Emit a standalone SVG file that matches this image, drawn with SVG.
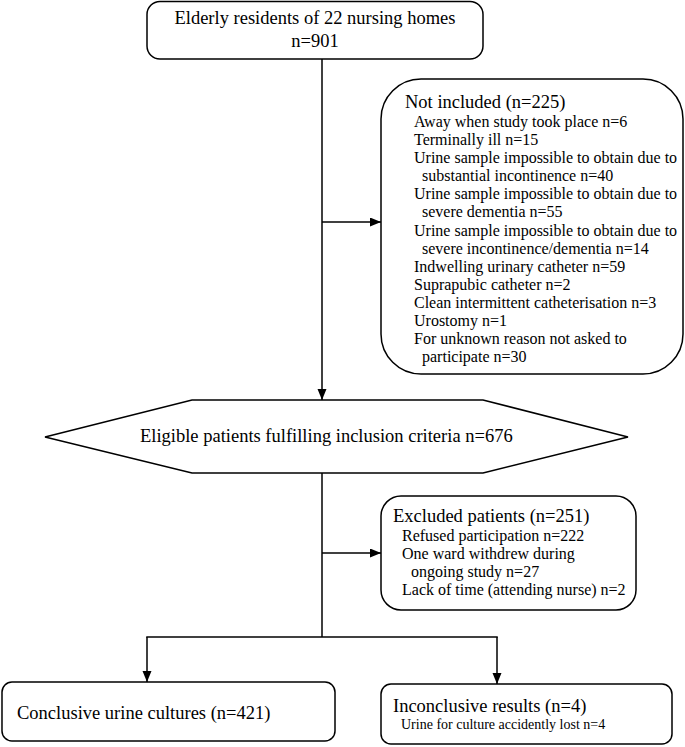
<svg xmlns="http://www.w3.org/2000/svg" width="685" height="747" viewBox="0 0 685 747">
<defs>
<marker id="ah" markerUnits="userSpaceOnUse" markerWidth="12" markerHeight="10" refX="11" refY="4.5" orient="auto">
<path d="M0,0 L11,4.5 L0,9 z" fill="#000"/>
</marker>
<style>
.box{fill:#fff;stroke:#000;stroke-width:1.5}
.ln{fill:none;stroke:#000;stroke-width:1.5}
text{font-family:"Liberation Serif","Times New Roman",serif;fill:#000}
.h{font-size:18.5px}
.s{font-size:16px}
.xs{font-size:14px}
</style>
</defs>
<g id="connectors">
<line class="ln" x1="322" y1="59" x2="322" y2="400" marker-end="url(#ah)"/>
<line class="ln" x1="322" y1="222" x2="381" y2="222" marker-end="url(#ah)"/>
<line class="ln" x1="322" y1="473" x2="322" y2="637"/>
<line class="ln" x1="322" y1="553" x2="381" y2="553" marker-end="url(#ah)"/>
<line class="ln" x1="146.25" y1="637" x2="497.75" y2="637"/>
<line class="ln" x1="147" y1="637" x2="147" y2="682" marker-end="url(#ah)"/>
<line class="ln" x1="497" y1="637" x2="497" y2="684" marker-end="url(#ah)"/>
</g>
<g id="n1">
<rect class="box" x="147" y="1.5" width="336" height="57.5" rx="13"/>
<text class="h" x="315" y="24" text-anchor="middle">Elderly residents of 22 nursing homes</text>
<text class="h" x="315" y="47" text-anchor="middle">n=901</text>
</g>
<g id="n2">
<rect class="box" x="381" y="79" width="302" height="295" rx="40"/>
<text class="h" x="405" y="108">Not included (n=225)</text>
<text class="s" x="414" y="127">Away when study took place n=6</text>
<text class="s" x="414" y="145">Terminally ill n=15</text>
<text class="s" x="414" y="163">Urine sample impossible to obtain due to</text>
<text class="s" x="422" y="181">substantial incontinence n=40</text>
<text class="s" x="414" y="199">Urine sample impossible to obtain due to</text>
<text class="s" x="422" y="217">severe dementia n=55</text>
<text class="s" x="414" y="236">Urine sample impossible to obtain due to</text>
<text class="s" x="422" y="254">severe incontinence/dementia n=14</text>
<text class="s" x="414" y="272">Indwelling urinary catheter n=59</text>
<text class="s" x="414" y="290">Suprapubic catheter n=2</text>
<text class="s" x="414" y="308">Clean intermittent catheterisation n=3</text>
<text class="s" x="414" y="326">Urostomy n=1</text>
<text class="s" x="414" y="344">For unknown reason not asked to</text>
<text class="s" x="422" y="362">participate n=30</text>
</g>
<g id="n3">
<polygon class="box" points="45,437 192,400 483,400 628,437 483,473 192,473"/>
<text class="h" x="140" y="442">Eligible patients fulfilling inclusion criteria n=676</text>
</g>
<g id="n4">
<rect class="box" x="381" y="496" width="255" height="114" rx="20"/>
<text class="h" x="393" y="522">Excluded patients (n=251)</text>
<text class="s" x="402" y="541">Refused participation n=222</text>
<text class="s" x="402" y="559">One ward withdrew during</text>
<text class="s" x="411" y="577">ongoing study n=27</text>
<text class="s" x="402" y="595">Lack of time (attending nurse) n=2</text>
</g>
<g id="n5">
<rect class="box" x="2" y="682" width="333" height="59" rx="10"/>
<text class="h" x="17" y="719">Conclusive urine cultures (n=421)</text>
</g>
<g id="n6">
<rect class="box" x="381" y="684" width="291" height="60" rx="10"/>
<text class="h" x="393" y="712">Inconclusive results (n=4)</text>
<text class="xs" x="401" y="729">Urine for culture accidently lost n=4</text>
</g>
</svg>
